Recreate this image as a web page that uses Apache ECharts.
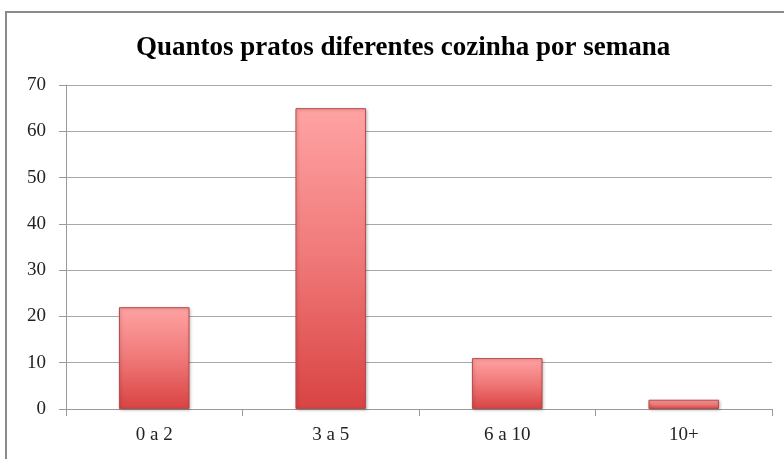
<!DOCTYPE html>
<html>
<head>
<meta charset="utf-8">
<script src="https://cdn.jsdelivr.net/npm/echarts@6/dist/echarts.min.js"></script>
<style>
  html, body { margin: 0; padding: 0; background: #fff; }
  #chart { width: 784px; height: 459px; }
</style>
</head>
<body>
<div id="chart"></div>
<script>
const categories = ["0 a 2", "3 a 5", "6 a 10", "10+"];
const values = [22, 65, 11, 2];
const yTicks = { min: 0, max: 70, interval: 10 };

const chart = echarts.init(document.getElementById("chart"), null, { renderer: "canvas" });
const serif = "'Liberation Serif', 'DejaVu Serif', serif";

chart.setOption({
  animation: false,
  backgroundColor: "#fff",
  title: {
    text: "Quantos pratos diferentes cozinha por semana",
    left: 131,
    top: 30,
    textStyle: { fontFamily: serif, fontWeight: "bold", fontSize: 27, color: "#000" }
  },
  graphic: [{
    type: "rect",
    shape: { x: 6, y: 12, width: 800, height: 460 },
    style: { fill: "none", stroke: "#8a8a8a", lineWidth: 2 },
    silent: true
  }],
  grid: { left: 66, right: 12, top: 85, bottom: 50 },
  xAxis: {
    type: "category",
    data: categories,
    axisLine: { lineStyle: { color: "#9a9a9a", width: 1 } },
    axisTick: { show: true, alignWithLabel: false, length: 7, lineStyle: { color: "#9a9a9a" } },
    axisLabel: { color: "#222", fontFamily: serif, fontSize: 19, margin: 17 }
  },
  yAxis: {
    type: "value",
    min: yTicks.min,
    max: yTicks.max,
    interval: yTicks.interval,
    axisLine: { show: true, lineStyle: { color: "#9a9a9a" } },
    axisTick: { show: true, length: 7, lineStyle: { color: "#9a9a9a" } },
    axisLabel: { color: "#222", fontFamily: serif, fontSize: 19, margin: 20 },
    splitLine: { lineStyle: { color: "#a8a8a8", width: 1 } }
  },
  series: [{
    type: "bar",
    data: values,
    barWidth: "40%",
    itemStyle: {
      color: new echarts.graphic.LinearGradient(0, 0, 0, 1, [
        { offset: 0, color: "#ffa3a3" },
        { offset: 0.5, color: "#f07878" },
        { offset: 1, color: "#d94343" }
      ]),
      borderColor: "#b94a4a",
      borderWidth: 1,
      shadowColor: "rgba(0,0,0,0.25)",
      shadowBlur: 3,
      shadowOffsetX: 1,
      shadowOffsetY: 1
    }
  }]
});
</script>
</body>
</html>
